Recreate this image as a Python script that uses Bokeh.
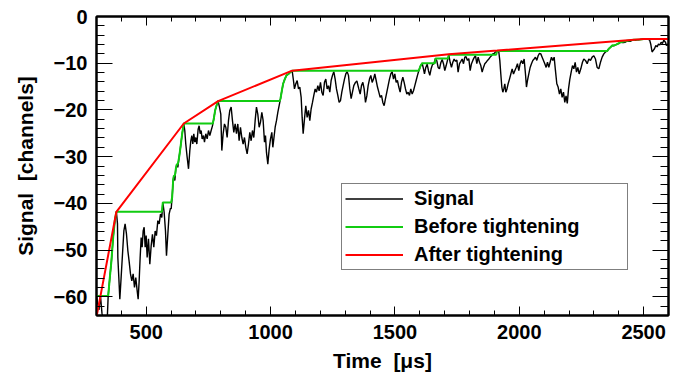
from bokeh.plotting import figure
from bokeh.models import (Range1d, SingleIntervalTicker, LinearAxis, Legend, LegendItem,
                          CustomJSTickFormatter)
from bokeh.embed import file_html
from bokeh.resources import INLINE

# ---------------- data ----------------
sig_x = [300, 305, 310, 316, 322, 330, 340, 344, 347, 353.6, 360, 367, 373.7, 380, 384.4, 385.8,
         389.8, 393.8, 399, 404.5, 410, 415, 420.6, 426, 431, 436.7, 442, 447.4, 452.8, 458, 463.5,
         467.5, 471.5, 475.5, 479.6, 483.6, 487.6, 491.6, 495.6, 499.7, 503.7, 509, 514.4, 519.8,
         525, 530.5, 535.8, 541, 546.6, 552, 557.3, 562.6, 566.7, 572, 577.4, 581.4, 586.8, 592,
         597.5, 600.2, 604.2, 608.2, 611, 615, 619, 623, 627, 632.3, 637.7, 644.4, 651, 655, 659,
         664.5, 670, 675.2, 679.3, 683.3, 687.3, 691.3, 695.3, 699.3, 703.4, 708.7, 712.7, 716.8,
         720.8, 724.8, 730.2, 734.2, 739.5, 745, 750.3, 755.6, 761, 766.3, 771.7, 777, 782.4, 789.1,
         794.5, 799.8, 803.9, 809.2, 814.6, 820, 825.3, 830.7, 836, 841.4, 846.7, 852.1, 857.5,
         862.8, 868.2, 873.5, 878.9, 884.3, 889.6, 895, 900.3, 905.7, 911.1, 916.4, 921.8, 927.1,
         932.5, 937.9, 943.2, 948.6, 954, 959.4, 964.8, 970.1, 975.5, 979.5, 983.5, 988.9, 994.2,
         999.6, 1005, 1009, 1013, 1018.4, 1023.7, 1029.1, 1034.4, 1039.8, 1045.2, 1050.5, 1057.2,
         1063.9, 1072, 1080, 1086.7, 1092, 1096, 1101.4, 1106.8, 1112.2, 1117.5, 1122.9, 1126.9,
         1131, 1136.3, 1141.6, 1147, 1152.4, 1157.7, 1163, 1168.5, 1173.8, 1179.2, 1184.5, 1189.9,
         1195.2, 1200.6, 1206, 1211.3, 1216.7, 1222, 1227.4, 1232.8, 1238.1, 1243.5, 1248.8, 1254.2,
         1259.6, 1264.9, 1270.3, 1275.6, 1281, 1286.4, 1291.7, 1297.1, 1302.4, 1307.8, 1313.2,
         1318.5, 1323.9, 1329.2, 1334.6, 1341.4, 1347, 1354.8, 1360.2, 1365.5, 1371, 1376.2, 1381.6,
         1387, 1392.3, 1397.7, 1403, 1408.4, 1413.8, 1419.1, 1424.5, 1429.8, 1435.2, 1440.6, 1446,
         1451.3, 1456.6, 1462, 1467.4, 1472.7, 1478, 1483.4, 1488.8, 1494.2, 1499.5, 1504.9, 1510,
         1515.6, 1521, 1526.3, 1531.7, 1537, 1542.4, 1547.8, 1553, 1558.5, 1563.8, 1569.2, 1574.6,
         1580, 1585.3, 1590.6, 1596, 1602.7, 1609.4, 1614.8, 1618.8, 1624.1, 1629.5, 1634.9, 1640.2,
         1645.5, 1650.9, 1656.3, 1663, 1668.4, 1673.7, 1679.1, 1684.5, 1689.8, 1695.2, 1700.5, 1706,
         1711.2, 1716.6, 1722, 1727.3, 1732.7, 1738, 1743.5, 1749, 1754, 1759.6, 1765, 1770.3,
         1775.7, 1781, 1786, 1791.7, 1797, 1802.5, 1807.8, 1813.2, 1818.5, 1823.9, 1829.3, 1834.6,
         1840, 1845.3, 1850.7, 1856, 1861.4, 1866.7, 1872.1, 1877.5, 1882.9, 1888.2, 1893.6, 1899,
         1904.3, 1911, 1917.7, 1921.7, 1925.7, 1929.8, 1933.8, 1937.8, 1941.8, 1945.8, 1950.5,
         1955.2, 1960.6, 1966, 1971.3, 1976.7, 1982, 1987.4, 1992.7, 1998, 2003.5, 2008.8, 2014.2,
         2019.5, 2024.9, 2028.9, 2033, 2038.3, 2043.7, 2049, 2054.4, 2059.7, 2065.1, 2070.5, 2075.8,
         2081.2, 2086.5, 2091.9, 2097.3, 2102.6, 2108, 2113.4, 2118.7, 2124, 2129.4, 2134.8, 2140.2,
         2145.5, 2150.9, 2156.2, 2161.6, 2166.9, 2172.3, 2177.7, 2183, 2188, 2193, 2198, 2203,
         2208.6, 2214, 2219.4, 2224.7, 2230, 2235.4, 2240.7, 2247.4, 2254, 2259.5, 2266, 2273,
         2279.6, 2286.3, 2293, 2299.7, 2306.4, 2313.1, 2319.8, 2326.5, 2333.2, 2339.9, 2346.6,
         2353.3, 2360, 2366.7, 2373.4, 2380, 2386.8, 2393.5, 2400.2, 2406.9, 2413.6, 2420.3, 2427,
         2433.7, 2440.4, 2447.1, 2453.8, 2460.5, 2467.2, 2474, 2480.6, 2487.3, 2494, 2500, 2507.4,
         2516.8, 2524, 2529, 2534, 2538, 2543.6, 2549, 2554.3, 2559.7, 2565, 2570.4, 2575.7, 2581,
         2587.8, 2591.8, 2597, 2602]
sig_y = [-59.8, -61.5, -62.8, -59.8, -63.5, -66, -66, -63.7, -59.8, -55.9, -52.3, -47.3, -43.7, -41.8,
         -44.4, -51.6, -55.9, -60.5, -55.9, -50.9, -45.9, -44.4, -46.6, -50.1, -52.3, -55.1, -56.6,
         -55.1, -58, -55.9, -58.7, -60.5, -56.6, -51.6, -47.3, -49.4, -45.9, -45.1, -49.4, -46.9,
         -51.6, -47.6, -53, -49.1, -46.6, -49.4, -45.9, -46.9, -43.7, -44.4, -42.3, -43, -39.8,
         -41.9, -45.9, -51.2, -46.6, -42.3, -41, -41.2, -38.7, -35.1, -34.1, -35.1, -32.6, -31.6,
         -32.3, -30.1, -28, -25.1, -22.9, -24.4, -27.3, -30.1, -32.6, -28.7, -26.6, -25.5, -27.3,
         -25.1, -26.9, -25.9, -27.3, -24.1, -23.4, -25.1, -24.4, -26.2, -25.5, -26.9, -25.1, -26.2,
         -24.4, -25.5, -24.4, -23.4, -21.9, -20.1, -19.1, -18.1, -19.4, -20.9, -28.7, -25.1, -23,
         -23.7, -25.9, -22.3, -20.1, -19.4, -22.3, -24.8, -23, -25.1, -23, -26.6, -23.7, -25.9,
         -27.3, -25.9, -28, -29.4, -27.3, -24.8, -26.6, -24.4, -25.9, -22.3, -19.4, -20.9, -23.7,
         -22.6, -20.5, -22.3, -26.9, -25.5, -29.1, -31.6, -28.4, -26.2, -24.8, -28, -26.2, -23.7,
         -22.3, -20.5, -19.1, -17.6, -15.9, -14.4, -13.4, -12.6, -12.3, -11.9, -11.6, -13.7, -15.5,
         -14.4, -13.7, -15.5, -15.1, -17.3, -21.6, -25.1, -21.9, -19.1, -21.6, -20.1, -22.3, -19.8,
         -18.4, -16.9, -15.5, -16.2, -14.8, -15.9, -14.1, -16.2, -16.9, -14.1, -13.4, -15.5, -14.8,
         -16.2, -13.7, -12.6, -11.8, -13.4, -15.5, -16.9, -18.4, -18, -16.2, -14.8, -13.4, -12.3,
         -11.8, -12.6, -15.5, -17.6, -16.2, -14.8, -14.1, -13.8, -15.5, -16.6, -14.8, -14.1, -15.5,
         -18.4, -17, -14.8, -13.4, -12.6, -14.1, -13.4, -12.3, -13.7, -15.1, -16.2, -17.3, -16.9,
         -18.4, -19.1, -17.6, -16.2, -14.8, -13.4, -12.3, -11.8, -13.4, -12.3, -14.1, -13.7, -15.1,
         -16.2, -14.1, -13, -14.1, -15.5, -16.6, -16.2, -16.9, -15.5, -16.6, -15.9, -14.8, -13.7,
         -12.6, -11.6, -10.6, -10.0, -11.2, -12.3, -10.9, -10.2, -11.6, -12.6, -11.2, -10.3, -10.1,
         -9.0, -9.5, -10.9, -11.2, -9.9, -9.2, -10.1, -11.6, -10.5, -9.4, -8.2, -9.8, -10.9, -9.8,
         -9.1, -9.6, -9.3, -11.9, -10.1, -9.6, -9.1, -10.1, -8.7, -8.6, -9.4, -9.0, -11.6, -10.1,
         -9.4, -8.8, -8.4, -10.1, -8.7, -9.8, -10.5, -11.9, -10.9, -10.1, -9.8, -9.4, -9.1, -8.7,
         -8.4, -8.0, -7.9, -7.6, -7.4, -7.6, -9.4, -12.3, -15.1, -16.2, -15.5, -14.4, -16.2, -15.5,
         -14.4, -13.4, -12.3, -11.2, -12.3, -11.6, -10.9, -10.1, -11.6, -10.1, -9.4, -10.1, -9.1,
         -12.3, -15.1, -13.7, -12.3, -10.9, -10.1, -9.4, -9.1, -8.7, -9.4, -8.4, -7.9, -8.0, -8.7,
         -9.4, -10.1, -10.9, -9.8, -10.9, -9.8, -8.7, -9.4, -8.7, -11.6, -14.4, -15.1, -16.6, -15.5,
         -17.3, -16.2, -18.4, -17.0, -18.6, -15.5, -13.5, -11.9, -10.5, -11.2, -9.8, -11.9, -10.9,
         -12.3, -11.2, -9.8, -9.1, -9.4, -10.1, -9.1, -9.4, -8.7, -8.4, -9.1, -10.9, -11.2, -9.8,
         -8.7, -8.0, -7.6, -7.4, -6.9, -6.6, -6.2, -6.3, -6.1, -5.9, -5.8, -5.5, -5.6, -5.6, -5.5,
         -5.2, -5.3, -5.3, -5.1, -5.0, -5.1, -4.95, -5.0, -4.9, -4.9, -4.8, -4.9, -4.9, -5.0, -6.0,
         -7.6, -7.3, -6.9, -6.2, -6.5, -5.9, -6.1, -5.5, -5.8, -5.1, -5.5, -6.2, -5.9, -6.5]

before_x = [300, 347, 353.6, 360, 367, 373.7, 380, 563, 566.7, 600.2, 604.2, 608.2, 611, 615, 619, 623,
            627, 632.3, 637.7, 644.4, 651, 767.5, 771.7, 777, 782.4, 789.1, 1037, 1039.8, 1045.2,
            1050.5, 1057.2, 1063.9, 1072, 1080, 1086.7, 1596, 1602.7, 1609.4, 1661, 1663, 1714,
            1716.6, 1907, 1911, 2353.3, 2360, 2366.7, 2373.4, 2386.8, 2393.5, 2406.9, 2433.7,
            2460.5, 2474, 2487.3, 2500, 2600]
before_y = [-59.8, -59.8, -55.9, -52.3, -47.3, -43.7, -41.8, -41.8, -39.8, -39.8, -38.7, -35.1, -34.1,
            -34.1, -32.6, -31.6, -31.6, -30.1, -28, -25.1, -22.9, -22.9, -21.9, -20.1, -19.1, -18.1,
            -18.1, -17.6, -15.9, -14.4, -13.4, -12.6, -12.3, -11.9, -11.6, -11.6, -10.6, -10.0,
            -10.0, -9.0, -9.0, -8.2, -8.2, -7.4, -7.4, -6.9, -6.6, -6.2, -6.1, -5.9, -5.5, -5.2,
            -5.0, -4.95, -4.9, -4.8, -4.8]

after_x = [300, 316, 380, 651, 789.1, 1086.7, 1716.6, 1911, 2500, 2600]
after_y = [-64.3, -59.8, -41.8, -22.9, -18.1, -11.6, -8.1, -7.3, -4.8, -4.8]

x_major_step = 500
y_major_step = 10

FONT = "Liberation Sans"

p = figure(width=689, height=378, x_range=Range1d(300, 2600), y_range=Range1d(-64, 0),
           output_backend="svg", toolbar_location=None,
           min_border_left=96, min_border_right=21, min_border_top=16, min_border_bottom=63)
p.xgrid.visible = False
p.ygrid.visible = False
p.outline_line_color = "black"
p.outline_line_width = 2
p.background_fill_color = "white"
p.border_fill_color = "white"

r_sig = p.line(sig_x, sig_y, line_color="black", line_width=1.4)
r_bef = p.line(before_x, before_y, line_color="#11cc11", line_width=2)
r_aft = p.line(after_x, after_y, line_color="#ff0000", line_width=2)

minus_fmt = CustomJSTickFormatter(code="return tick < 0 ? '\\u2212' + Math.abs(tick) : String(tick);")

xa = p.xaxis[0]
ya = p.yaxis[0]
top = LinearAxis()
right = LinearAxis()
p.add_layout(top, "above")
p.add_layout(right, "right")

for ax in (xa, top):
    ax.ticker = SingleIntervalTicker(interval=x_major_step, num_minor_ticks=5)
    ax.major_tick_in = 9
    ax.major_tick_out = 0
    ax.minor_tick_in = 5
    ax.minor_tick_out = 0
for ax in (ya, right):
    ax.ticker = SingleIntervalTicker(interval=y_major_step, num_minor_ticks=5)
    ax.major_tick_in = 16
    ax.major_tick_out = 0
    ax.minor_tick_in = 8
    ax.minor_tick_out = 0
for ax in (xa, ya, top, right):
    ax.axis_line_color = "black"
    ax.axis_line_width = 2
    ax.major_tick_line_color = "black"
    ax.minor_tick_line_color = "black"
    ax.major_tick_line_width = 1
    ax.minor_tick_line_width = 1
    ax.major_label_text_font = FONT
    ax.major_label_text_font_style = "bold"
    ax.major_label_text_font_size = "20px"
    ax.major_label_text_color = "black"
    ax.axis_label_text_font = FONT
    ax.axis_label_text_font_style = "bold"
    ax.axis_label_text_font_size = "21px"
    ax.axis_label_text_color = "black"
for ax in (top, right):
    ax.major_label_text_font_size = "1px"
    ax.major_label_text_color = None
    ax.major_label_standoff = 0

ya.formatter = minus_fmt
ya.major_label_standoff = 9
ya.axis_label = "Signal\u00a0 [channels]"
ya.axis_label_standoff = 14
xa.major_label_standoff = 9
xa.axis_label = "Time\u00a0 [\u03bcs]"
xa.axis_label_standoff = 7

legend = Legend(items=[LegendItem(label="Signal", renderers=[r_sig]),
                       LegendItem(label="Before tightening", renderers=[r_bef]),
                       LegendItem(label="After tightening", renderers=[r_aft])],
                location=(245, 45))
legend.border_line_color = "black"
legend.border_line_width = 1
legend.background_fill_color = "white"
legend.background_fill_alpha = 1
legend.padding = 3
legend.margin = 0
legend.spacing = 5
legend.glyph_width = 58
legend.glyph_height = 23
legend.label_height = 23
legend.label_width = 210
legend.label_standoff = 11
legend.label_text_font = FONT
legend.label_text_font_style = "bold"
legend.label_text_font_size = "20px"
legend.label_text_color = "black"
p.add_layout(legend)

open("out.html", "w").write(file_html(p, INLINE))
